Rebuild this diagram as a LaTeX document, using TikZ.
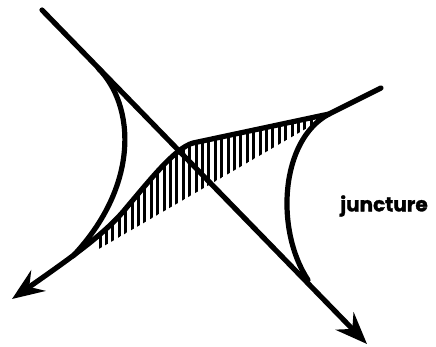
\documentclass[tikz,border=0pt]{standalone}
\usepackage{fontspec}
\setmainfont{Poppins}[BoldFeatures={FakeBold=1.6}]
\usetikzlibrary{arrows.meta}

\begin{document}
\begin{tikzpicture}[x=1pt, y=-1pt, line width=5.2pt, line cap=round,
    >={Stealth[length=32pt, width=25pt, inset=11pt]}]
    \useasboundingbox (0,0) rectangle (436,346);
    % 1. Các điểm mốc
    \coordinate (A) at (42,10);
    \coordinate (B) at (367,344);
    \coordinate (C) at (381,88);
    \coordinate (K) at (329,114);
    \coordinate (M) at (193,143);
    \coordinate (N) at (127,207);
    \coordinate (L) at (12,299);

    % 2. Vùng gạch sọc
    \begin{scope}
        \clip (97,250) -- (314,124) -- (K) -- (M)
            .. controls (175,148) and (150,180) .. (N)
            .. controls (107,232) and (75,255) .. (L) -- cycle;
        \foreach \x in {100,106.4,...,322} {
            \draw[line width=3pt, line cap=butt] (\x,0) -- (\x,346);
        }
    \end{scope}

    % 3. Hai đường chính
    \draw[->] (A) -- (B);
    \draw[->] (C) -- (K) -- (M) .. controls (175,148) and (150,180) .. (N)
        .. controls (107,232) and (75,255) .. (L);

    % 4. Hai cung nối
    \draw (98,68) .. controls (135,105) and (140,185) .. (73,256);
    \draw (K) .. controls (280,140) and (275,230) .. (308,280);

    \node[font=\fontsize{20}{20}\selectfont\bfseries] (lbl) at (384,206) {juncture};
\end{tikzpicture}
\end{document}
